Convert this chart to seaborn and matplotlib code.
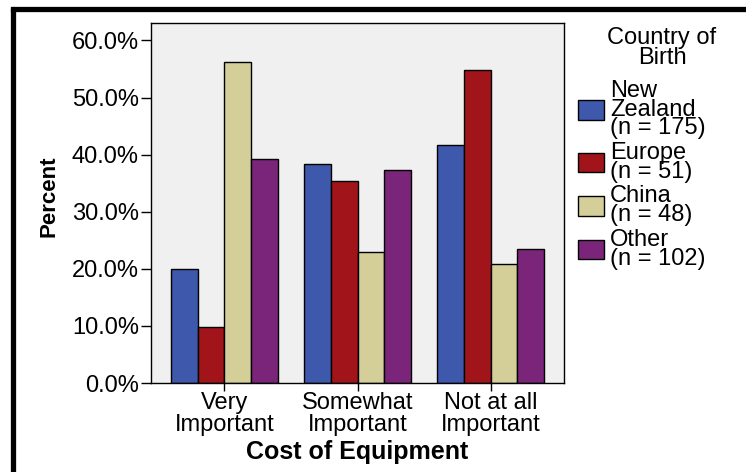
import matplotlib
matplotlib.use("Agg")
import matplotlib.pyplot as plt
from matplotlib.lines import Line2D
from matplotlib.patches import Patch
import numpy as np
import pandas as pd
import seaborn as sns

# data (percent within each country of birth)
cost_levels = ["Very\nImportant", "Somewhat\nImportant", "Not at all\nImportant"]
countries = ["New Zealand", "Europe", "China", "Other"]
country_labels = ["New\nZealand\n(n = 175)", "Europe\n(n = 51)", "China\n(n = 48)", "Other\n(n = 102)"]
new_zealand = [20.0, 38.3, 41.7]
europe = [9.8, 35.3, 54.9]
china = [56.3, 22.9, 20.8]
other = [39.2, 37.3, 23.5]

colors = ["#3e58ac", "#a0141a", "#d4cf99", "#7b257a"]
font_size = 17

df = pd.DataFrame({
    "cost": cost_levels * 4,
    "country": np.repeat(countries, 3),
    "percent": new_zealand + europe + china + other,
})

sns.set_style("white")
plt.rcParams["font.family"] = ["Liberation Sans", "DejaVu Sans"]
plt.rcParams["text.color"] = "black"
plt.rcParams["axes.labelcolor"] = "black"
plt.rcParams["xtick.color"] = "black"
plt.rcParams["ytick.color"] = "black"

W, H = 746, 472
fig = plt.figure(figsize=(W / 100, H / 100), dpi=100)
ax = fig.add_axes([151 / W, 1 - 383 / H, (564 - 151) / W, (383 - 22.7) / H])
ax.set_facecolor("#f0f0f0")

sns.barplot(data=df, x="cost", y="percent", hue="country", order=cost_levels, hue_order=countries,
            palette=colors, width=0.8, edgecolor="black", linewidth=1.0, saturation=1, legend=False, ax=ax)

ax.set_ylim(0, 63.1)
ax.set_xlim(-0.55, 2.55)
ax.set_yticks(np.arange(0, 61, 10))
ax.set_yticklabels([f"{v:.1f}%" for v in np.arange(0, 61, 10)])
ax.tick_params(axis="both", which="both", direction="out", width=1, color="black",
               labelcolor="black", labelsize=font_size, left=True, bottom=True)
ax.tick_params(axis="y", length=7.2, pad=1.5)
ax.tick_params(axis="x", length=5.8, pad=1)
for t in ax.get_xticklabels():
    t.set_linespacing(0.95)

for side in ["left", "right", "top", "bottom"]:
    ax.spines[side].set_visible(True)
    ax.spines[side].set_color("black")
    ax.spines[side].set_linewidth(1)

ax.set_xlabel("Cost of Equipment", fontsize=font_size + 1, fontweight="bold")
ax.xaxis.set_label_coords(0.5, (383 - 451.7) / (383 - 22.7))
ax.xaxis.label.set_va("center")
ax.set_ylabel("Percent", fontsize=font_size - 1, fontweight="bold",
              family=["Liberation Sans Narrow", "Liberation Sans"])
ax.yaxis.set_label_coords((49 - 151) / 413, (383 - 196) / (383 - 22.7))
ax.yaxis.label.set_va("center")

# legend
fig.text(662 / W, 1 - 48 / H, "Country of\nBirth", ha="center", va="center",
         fontsize=font_size, linespacing=0.85)
handles = [Patch(facecolor=c, edgecolor="black", linewidth=1) for c in colors]
leg = fig.legend(handles, country_labels, loc="upper left", bbox_to_anchor=(578 / W, 1 - 80 / H),
                 frameon=False, fontsize=font_size, borderpad=0, borderaxespad=0,
                 handlelength=1.1, handleheight=0.9, handletextpad=0.25, labelspacing=0.12)
for t in leg.get_texts():
    t.set_linespacing(0.8)

# thick frame on the left and top
lw = 3.8
fig.add_artist(Line2D([13 / W, 13 / W], [0, 1 - 9 / H], transform=fig.transFigure, color="black", lw=lw))
fig.add_artist(Line2D([13 / W, 1], [1 - 9 / H, 1 - 9 / H], transform=fig.transFigure, color="black", lw=lw,
                      solid_capstyle="projecting"))

fig.savefig("out.png", dpi=100)
